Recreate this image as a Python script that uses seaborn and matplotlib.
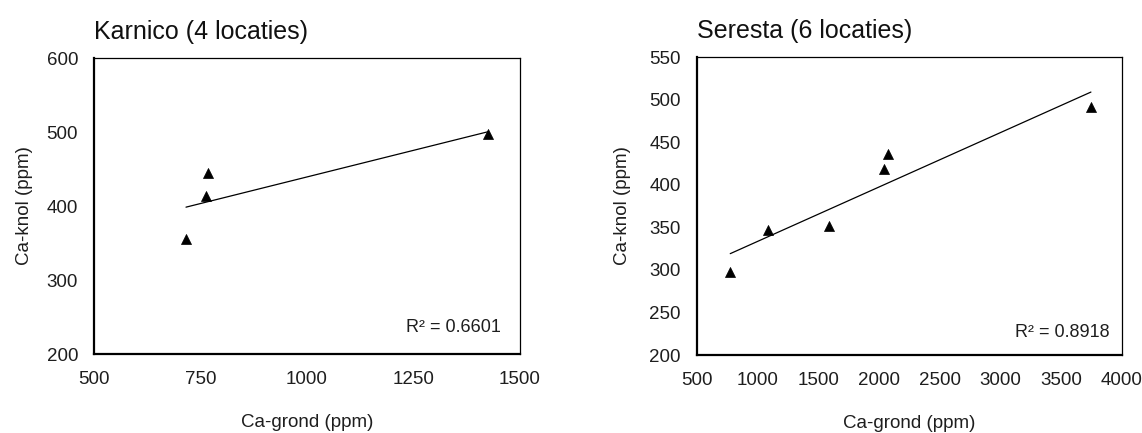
import numpy as np
import pandas as pd
import matplotlib
matplotlib.use("Agg")
import matplotlib.pyplot as plt
import seaborn as sns

# Data
karnico_titel = "Karnico (4 locaties)"
karnico_grond = [716, 763, 768, 1425]
karnico_knol = [355, 413, 445, 497]
karnico_r2 = "0.6601"

seresta_titel = "Seresta (6 locaties)"
seresta_grond = [774, 1085, 1591, 2037, 2074, 3744]
seresta_knol = [297, 347, 351, 418, 436, 491]
seresta_r2 = "0.8918"

x_label = "Ca-grond (ppm)"
y_label = "Ca-knol (ppm)"

sns.set_theme(style="white")
plt.rcParams['font.family'] = ['Liberation Sans', 'DejaVu Sans']

fig = plt.figure(figsize=(11.42, 4.33), dpi=100)
ax1 = fig.add_axes([0.0823, 0.1824, 0.3730, 0.6836])
ax2 = fig.add_axes([0.6103, 0.1801, 0.3722, 0.6882])

panels = [
    (ax1, karnico_titel, karnico_grond, karnico_knol, karnico_r2,
     (500, 1500), [500, 750, 1000, 1250, 1500], (200, 600), [200, 300, 400, 500, 600],
     (0.955, 0.074), 10),
    (ax2, seresta_titel, seresta_grond, seresta_knol, seresta_r2,
     (500, 4000), list(range(500, 4001, 500)), (200, 550), list(range(200, 551, 50)),
     (0.971, 0.060), 13),
]

txt = "#1e1e1e"
for ax, titel, xs, ys, r2, xlim, xt, ylim, yt, r2pos, ylpad in panels:
    df = pd.DataFrame({"x": xs, "y": ys})
    sns.regplot(data=df, x="x", y="y", ax=ax, scatter=False, ci=None,
                line_kws=dict(color="black", lw=0.9))
    sns.scatterplot(data=df, x="x", y="y", ax=ax, marker="^", color="black",
                    s=52, edgecolor="black", linewidth=0.5, zorder=3)
    ax.set_xlim(*xlim)
    ax.set_ylim(*ylim)
    ax.set_xticks(xt)
    ax.set_yticks(yt)
    ax.tick_params(axis="both", direction="in", length=5, width=1, color="black",
                   labelsize=13.5, labelcolor=txt)
    ax.tick_params(axis="x", pad=12)
    ax.tick_params(axis="y", pad=11.5)
    ax.set_xlabel(x_label, fontsize=13.5, labelpad=19, color=txt)
    ax.set_ylabel(y_label, fontsize=13.5, labelpad=ylpad, color=txt)
    ax.set_title(titel, loc="left", fontsize=18, pad=13.5, color="#111111")
    for side in ["left", "bottom"]:
        ax.spines[side].set_linewidth(1.6)
        ax.spines[side].set_color("black")
    for side in ["top", "right"]:
        ax.spines[side].set_linewidth(0.9)
        ax.spines[side].set_color("black")
    ax.text(r2pos[0], r2pos[1], "R² = " + r2, transform=ax.transAxes,
            ha="right", va="baseline", fontsize=13, color=txt)

fig.savefig("out.png", dpi=100)
